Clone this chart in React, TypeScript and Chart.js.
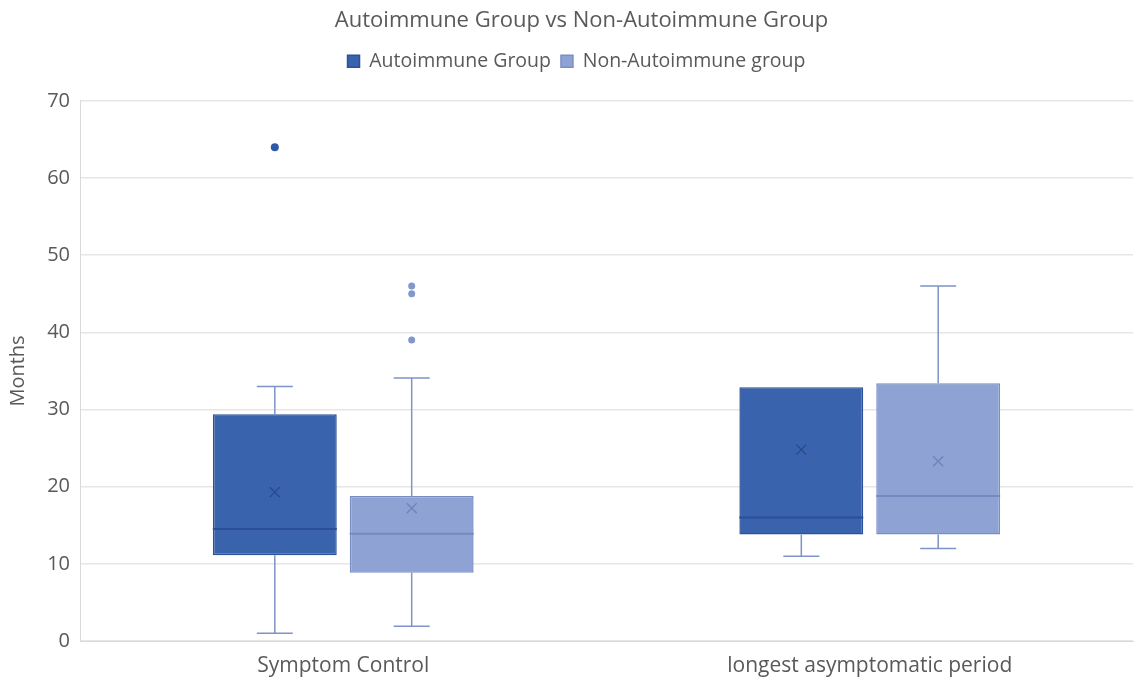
import React, { useEffect, useRef } from "react";
import { Chart, registerables } from "chart.js";

Chart.register(...registerables);

const categories = ["Symptom Control", "longest asymptomatic period"];
const seriesNames = ["Autoimmune Group", "Non-Autoimmune group"];

const autoMin = [1, 11];
const autoQ1 = [11.1, 13.8];
const autoMedian = [14.5, 16];
const autoQ3 = [29.4, 32.9];
const autoMax = [33, 33];
const autoMean = [19.3, 24.8];
const autoOutliers = [[64], []];

const nonMin = [1.9, 12];
const nonQ1 = [8.85, 13.8];
const nonMedian = [13.9, 18.8];
const nonQ3 = [18.8, 33.4];
const nonMax = [34.1, 46];
const nonMean = [17.2, 23.3];
const nonOutliers = [[39, 45, 46], []];

const yTicks = [0, 10, 20, 30, 40, 50, 60, 70];

const FONT = "'Open Sans', sans-serif";

const stats = [
  { min: autoMin, q1: autoQ1, med: autoMedian, q3: autoQ3, max: autoMax, mean: autoMean, out: autoOutliers,
    whisker: "#7E93C7", median: "#2B4F96", cross: "#27488A", dot: "#2F58A6" },
  { min: nonMin, q1: nonQ1, med: nonMedian, q3: nonQ3, max: nonMax, mean: nonMean, out: nonOutliers,
    whisker: "#7E93C7", median: "#7689C0", cross: "#7082BB", dot: "#8297CB" },
];

const boxPlugin = {
  id: "boxExtras",
  beforeInit(chart: any) {
    const legend = chart.legend;
    if (legend) {
      const orig = legend.fit;
      legend.fit = function () {
        orig.call(this);
        this.height += 20;
      };
    }
  },
  afterLayout(chart: any) {
    if (chart.titleBlock) chart.titleBlock.left += 24;
    if (chart.legend) chart.legend.left += 14;
  },
  afterDatasetsDraw(chart: any) {
    const ctx = chart.ctx;
    const ys = chart.scales.y;
    stats.forEach((s, di) => {
      const meta = chart.getDatasetMeta(di);
      meta.data.forEach((bar: any, i: number) => {
        const x = bar.x;
        const w = bar.width;
        const yMin = ys.getPixelForValue(s.min[i]);
        const yQ1 = ys.getPixelForValue(s.q1[i]);
        const yQ3 = ys.getPixelForValue(s.q3[i]);
        const yMax = ys.getPixelForValue(s.max[i]);
        const yMed = ys.getPixelForValue(s.med[i]);
        const yMean = ys.getPixelForValue(s.mean[i]);
        const cap = 18;
        ctx.save();
        ctx.strokeStyle = s.whisker;
        ctx.lineWidth = 1.5;
        ctx.beginPath();
        if (Math.abs(yMax - yQ3) > 1) {
          ctx.moveTo(x, yQ3);
          ctx.lineTo(x, yMax);
          ctx.moveTo(x - cap, yMax);
          ctx.lineTo(x + cap, yMax);
        }
        if (Math.abs(yMin - yQ1) > 1) {
          ctx.moveTo(x, yQ1);
          ctx.lineTo(x, yMin);
          ctx.moveTo(x - cap, yMin);
          ctx.lineTo(x + cap, yMin);
        }
        ctx.stroke();
        ctx.strokeStyle = s.median;
        ctx.lineWidth = 2;
        ctx.beginPath();
        ctx.moveTo(x - w / 2, yMed);
        ctx.lineTo(x + w / 2, yMed);
        ctx.stroke();
        const c = 5;
        ctx.strokeStyle = s.cross;
        ctx.lineWidth = 1.3;
        ctx.beginPath();
        ctx.moveTo(x - c, yMean - c);
        ctx.lineTo(x + c, yMean + c);
        ctx.moveTo(x + c, yMean - c);
        ctx.lineTo(x - c, yMean + c);
        ctx.stroke();
        ctx.fillStyle = s.dot;
        s.out[i].forEach((v: number) => {
          ctx.beginPath();
          ctx.arc(x, ys.getPixelForValue(v), di === 0 ? 4 : 3.5, 0, Math.PI * 2);
          ctx.fill();
        });
        ctx.restore();
      });
    });
  },
};

export default function App() {
  const ref = useRef<HTMLCanvasElement>(null);
  useEffect(() => {
    if (!ref.current) return;
    const chart = new Chart(ref.current, {
      type: "bar",
      data: {
        labels: categories,
        datasets: [
          {
            label: seriesNames[0],
            data: autoQ1.map((q, i) => [q, autoQ3[i]]) as any,
            backgroundColor: "#3A63AD",
            borderColor: "#2C5198",
            borderWidth: 1.5,
            borderSkipped: false,
            categoryPercentage: 0.52,
            barPercentage: 0.905,
          },
          {
            label: seriesNames[1],
            data: nonQ1.map((q, i) => [q, nonQ3[i]]) as any,
            backgroundColor: "#8EA2D4",
            borderColor: "#7A8EC6",
            borderWidth: 1.5,
            borderSkipped: false,
            categoryPercentage: 0.52,
            barPercentage: 0.905,
          },
        ],
      },
      options: {
        animation: false,
        responsive: false,
        maintainAspectRatio: false,
        layout: { padding: { top: 8, right: 2, left: 6, bottom: 0 } },
        plugins: {
          title: {
            display: true,
            text: "Autoimmune Group vs Non-Autoimmune Group",
            color: "#595959",
            font: { family: FONT, size: 22, weight: "normal" },
            padding: { top: 0, bottom: 7 },
          },
          legend: {
            display: true,
            labels: {
              color: "#595959",
              font: { family: FONT, size: 19.5 },
              boxWidth: 12,
              boxHeight: 12,
              padding: 10,
            },
          },
          tooltip: { enabled: false },
        },
        scales: {
          x: {
            grid: { display: false },
            border: { color: "#D9D9D9" },
            ticks: { color: "#595959", font: { family: FONT, size: 21 }, padding: 4 },
            afterFit: (axis: any) => {
              axis.height = 39;
            },
          },
          y: {
            min: 0,
            max: 70,
            afterBuildTicks: (axis: any) => {
              axis.ticks = yTicks.map((v) => ({ value: v }));
            },
            afterFit: (axis: any) => {
              axis.width = 74;
            },
            grid: { color: "#E6E6E6", lineWidth: 1.5, drawTicks: false },
            border: { color: "#D9D9D9" },
            ticks: { color: "#595959", font: { family: FONT, size: 20 }, padding: 10 },
            title: {
              display: true,
              text: "Months",
              color: "#595959",
              font: { family: FONT, size: 20 },
              padding: { top: 0, bottom: 6 },
            },
          },
        },
      },
      plugins: [boxPlugin],
    });
    return () => chart.destroy();
  }, []);
  return (
    <div style={{ position: "fixed", left: 0, top: 0, width: 1135, height: 680, background: "#fff" }}>
      <canvas ref={ref} width={1135} height={680} />
    </div>
  );
}
